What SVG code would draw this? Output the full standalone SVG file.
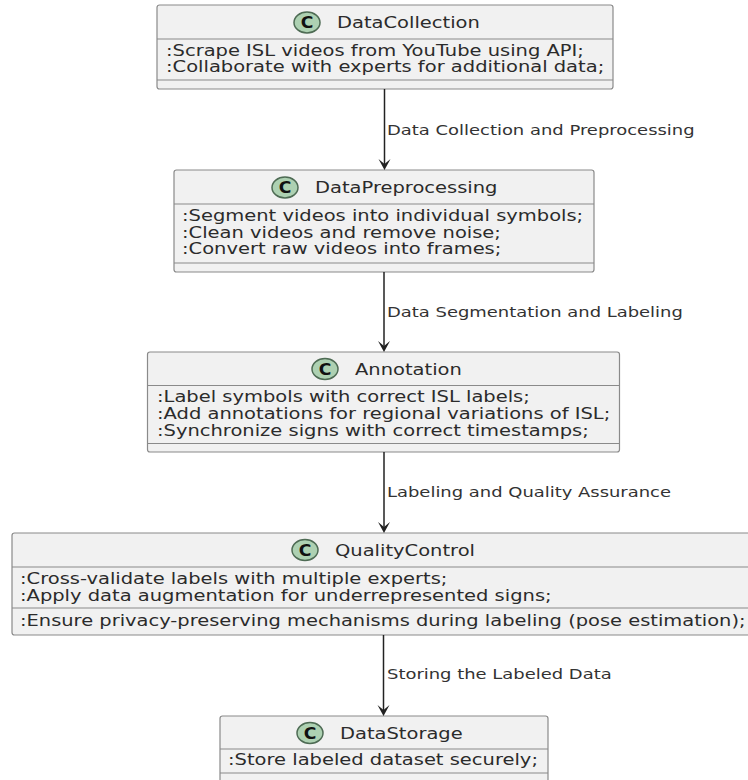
<svg xmlns="http://www.w3.org/2000/svg" width="748" height="780" viewBox="0 0 748 780">
<style>
.box{fill:#F1F1F1;stroke:#8a8a8a;stroke-width:1.2}
.sep{stroke:#8a8a8a;stroke-width:1.2}
.t{font-family:"DejaVu Sans",Verdana,sans-serif;font-size:15px;fill:#2b2b2b}
.lbl{font-family:"DejaVu Sans",Verdana,sans-serif;font-size:13.8px;fill:#333}
.ic{fill:#ADD1B2;stroke:#4e6b54;stroke-width:1.5}
.icl{font-family:"DejaVu Sans",Verdana,sans-serif;font-size:15px;font-weight:bold;fill:#111;text-anchor:middle}
.ln{stroke:#222;stroke-width:1.5;fill:none}
.ah{fill:#222}
</style>
<rect width="748" height="780" fill="#fff"/>
<g id="DataCollection">
<rect class="box" x="157" y="5" width="456" height="84" rx="2.5"/>
<line class="sep" x1="157" y1="39" x2="613" y2="39"/>
<line class="sep" x1="157" y1="80" x2="613" y2="80"/>
<ellipse class="ic" cx="307" cy="22.5" rx="13" ry="10.5"/>
<text class="icl" transform="translate(307,28) scale(1.15,1)">C</text>
<text class="t" transform="translate(337,28) scale(1.3,1)">DataCollection</text>
<text class="t" transform="translate(166,55.5) scale(1.3,1)">:Scrape ISL videos from YouTube using API;</text>
<text class="t" transform="translate(166,72) scale(1.3,1)">:Collaborate with experts for additional data;</text>
</g>
<g id="DataPreprocessing">
<rect class="box" x="174" y="170" width="420" height="102" rx="2.5"/>
<line class="sep" x1="174" y1="204" x2="594" y2="204"/>
<line class="sep" x1="174" y1="263" x2="594" y2="263"/>
<ellipse class="ic" cx="285" cy="187.5" rx="13" ry="10.5"/>
<text class="icl" transform="translate(285,193) scale(1.15,1)">C</text>
<text class="t" transform="translate(315,193) scale(1.3,1)">DataPreprocessing</text>
<text class="t" transform="translate(182,221) scale(1.3,1)">:Segment videos into individual symbols;</text>
<text class="t" transform="translate(182,237.5) scale(1.3,1)">:Clean videos and remove noise;</text>
<text class="t" transform="translate(182,254) scale(1.3,1)">:Convert raw videos into frames;</text>
</g>
<g id="Annotation">
<rect class="box" x="147.5" y="352" width="472" height="100" rx="2.5"/>
<line class="sep" x1="147.5" y1="385.5" x2="619.5" y2="385.5"/>
<line class="sep" x1="147.5" y1="443.5" x2="619.5" y2="443.5"/>
<ellipse class="ic" cx="325" cy="369" rx="13" ry="10.5"/>
<text class="icl" transform="translate(325,374.5) scale(1.15,1)">C</text>
<text class="t" transform="translate(355,374.5) scale(1.3,1)">Annotation</text>
<text class="t" transform="translate(157,402) scale(1.3,1)">:Label symbols with correct ISL labels;</text>
<text class="t" transform="translate(157,419) scale(1.3,1)">:Add annotations for regional variations of ISL;</text>
<text class="t" transform="translate(157,436) scale(1.3,1)">:Synchronize signs with correct timestamps;</text>
</g>
<g id="QualityControl">
<rect class="box" x="12" y="533" width="745" height="102" rx="2.5"/>
<line class="sep" x1="12" y1="567" x2="757" y2="567"/>
<line class="sep" x1="12" y1="608" x2="757" y2="608"/>
<ellipse class="ic" cx="305" cy="550" rx="13" ry="10.5"/>
<text class="icl" transform="translate(305,555.5) scale(1.15,1)">C</text>
<text class="t" transform="translate(335,555.5) scale(1.3,1)">QualityControl</text>
<text class="t" transform="translate(20,584) scale(1.3,1)">:Cross-validate labels with multiple experts;</text>
<text class="t" transform="translate(20,600.5) scale(1.3,1)">:Apply data augmentation for underrepresented signs;</text>
<text class="t" transform="translate(20,626) scale(1.297,1)">:Ensure privacy-preserving mechanisms during labeling (pose estimation);</text>
</g>
<g id="DataStorage">
<rect class="box" x="220" y="716" width="328" height="66" rx="2.5"/>
<line class="sep" x1="220" y1="749" x2="548" y2="749"/>
<line class="sep" x1="220" y1="773" x2="548" y2="773"/>
<ellipse class="ic" cx="310" cy="733" rx="13" ry="10.5"/>
<text class="icl" transform="translate(310,738.5) scale(1.15,1)">C</text>
<text class="t" transform="translate(340,738.5) scale(1.3,1)">DataStorage</text>
<text class="t" transform="translate(228,765) scale(1.3,1)">:Store labeled dataset securely;</text>
</g>
<g id="connectors">
<line class="ln" x1="384.5" y1="89" x2="384.5" y2="165"/>
<polygon class="ah" points="384.5,170 378.5,159 384.5,164 390.5,159"/>
<text class="lbl" transform="translate(387,135) scale(1.3,1)">Data Collection and Preprocessing</text>
<line class="ln" x1="384" y1="272" x2="384" y2="347"/>
<polygon class="ah" points="384,352 378,341 384,346 390,341"/>
<text class="lbl" transform="translate(387,317) scale(1.3,1)">Data Segmentation and Labeling</text>
<line class="ln" x1="384" y1="452" x2="384" y2="528"/>
<polygon class="ah" points="384,533 378,522 384,527 390,522"/>
<text class="lbl" transform="translate(387,497) scale(1.3,1)">Labeling and Quality Assurance</text>
<line class="ln" x1="383.5" y1="635" x2="383.5" y2="711"/>
<polygon class="ah" points="383.5,716 377.5,705 383.5,710 389.5,705"/>
<text class="lbl" transform="translate(387,679) scale(1.3,1)">Storing the Labeled Data</text>
</g>
</svg>
